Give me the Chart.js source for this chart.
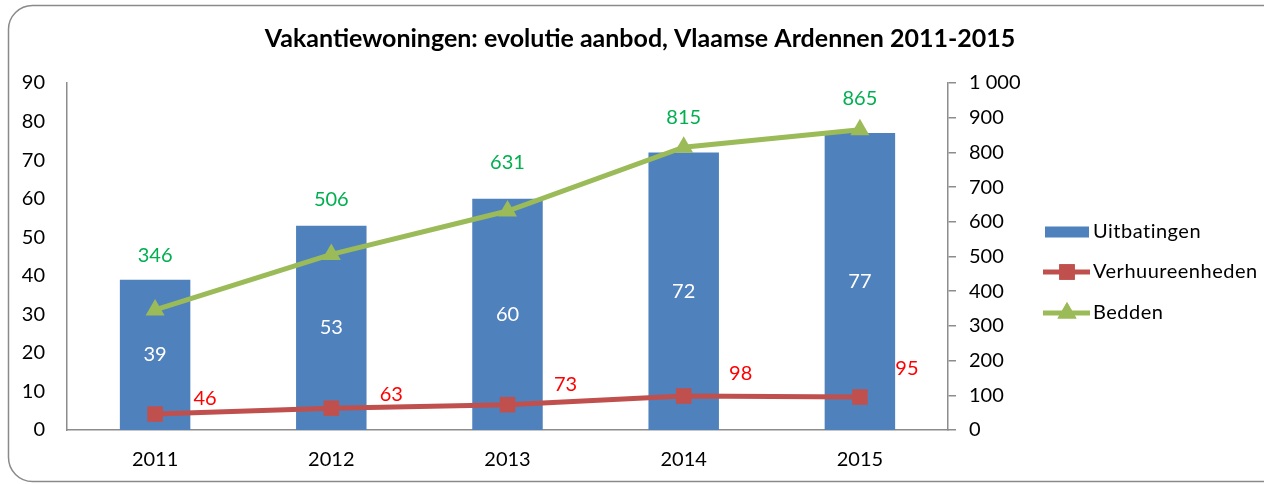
<!DOCTYPE html>
<html>
<head>
<meta charset="utf-8">
<script src="https://cdn.jsdelivr.net/npm/chart.js@4/dist/chart.umd.min.js"></script>
<style>
  html, body { margin: 0; padding: 0; background: #ffffff; }
  #wrap { position: relative; width: 1264px; height: 484px; }
</style>
</head>
<body>
<div id="wrap"><canvas id="c" width="1264" height="484"></canvas></div>
<script>
// ---- data ----
const categories = ['2011', '2012', '2013', '2014', '2015'];
const uitbatingen = [39, 53, 60, 72, 77];
const verhuureenheden = [46, 63, 73, 98, 95];
const bedden = [346, 506, 631, 815, 865];
const leftTicks = [0, 10, 20, 30, 40, 50, 60, 70, 80, 90];
const rightTicks = [0, 100, 200, 300, 400, 500, 600, 700, 800, 900, 1000];
const titleText = 'Vakantiewoningen: evolutie aanbod, Vlaamse Ardennen 2011-2015';

// ---- label placement (style, not data) ----
const beddenLabelDy = [-54, -55, -48, -30, -31];
const verhLabelDx = [50, 60, 58, 57, 47];
const verhLabelDy = [-15, -14, -20, -22, -28];

const FONT = 'Lato, "Open Sans", sans-serif';
const BLUE = '#4F81BD', RED = '#C0504D', GREEN = '#9BBB59';

const frame = {
  id: 'frame',
  beforeDraw(chart) {
    const ctx = chart.ctx;
    ctx.save();
    ctx.fillStyle = '#ffffff';
    ctx.fillRect(0, 0, chart.width, chart.height);
    ctx.strokeStyle = '#8a8a8a';
    ctx.lineWidth = 1.5;
    ctx.beginPath();
    ctx.roundRect(8.5, 5.5, 1320, 476, 24);
    ctx.stroke();
    // title
    ctx.fillStyle = '#000000';
    ctx.font = 'bold 25px ' + FONT;
    ctx.textAlign = 'center';
    ctx.textBaseline = 'alphabetic';
    ctx.fillText(titleText, 640, 47);
    ctx.restore();
  }
};

const labels = {
  id: 'labels',
  afterDatasetsDraw(chart) {
    const ctx = chart.ctx;
    ctx.save();
    ctx.font = '20px ' + FONT;
    ctx.textAlign = 'center';
    ctx.textBaseline = 'middle';
    // bars
    chart.getDatasetMeta(0).data.forEach((el, i) => {
      const v = chart.data.datasets[0].data[i];
      const p = el.getProps(['x', 'y', 'base'], true);
      ctx.fillStyle = '#ffffff';
      ctx.fillText(String(v), p.x, (p.y + p.base) / 2);
    });
    // verhuureenheden
    chart.getDatasetMeta(1).data.forEach((el, i) => {
      const v = chart.data.datasets[1].data[i];
      ctx.fillStyle = '#FF0000';
      ctx.fillText(String(v), el.x + verhLabelDx[i], el.y + verhLabelDy[i]);
    });
    // bedden
    chart.getDatasetMeta(2).data.forEach((el, i) => {
      const v = chart.data.datasets[2].data[i];
      ctx.fillStyle = '#00B050';
      ctx.fillText(String(v), el.x, el.y + beddenLabelDy[i]);
    });
    ctx.restore();
  }
};

const legend = {
  id: 'customLegend',
  afterDraw(chart) {
    const ctx = chart.ctx;
    const ds = chart.data.datasets;
    const x0 = 1045, sw = 44, tx = 1093;
    const ys = [232, 272, 313];
    ctx.save();
    // bar entry
    ctx.fillStyle = ds[0].backgroundColor;
    ctx.fillRect(x0, ys[0] - 5.5, sw, 11);
    // line entries
    [1, 2].forEach(k => {
      const y = ys[k];
      ctx.strokeStyle = ds[k].borderColor;
      ctx.fillStyle = ds[k].borderColor;
      ctx.lineWidth = 5;
      ctx.beginPath();
      ctx.moveTo(x0 - 2, y);
      ctx.lineTo(x0 + sw + 1, y);
      ctx.stroke();
      Chart.helpers.drawPoint(ctx, {
        pointStyle: ds[k].pointStyle,
        radius: ds[k].pointRadius,
        borderWidth: 0
      }, x0 + sw / 2, y);
      ctx.fill();
    });
    ctx.font = '20px ' + FONT;
    ctx.letterSpacing = '0.5px';
    ctx.textAlign = 'left';
    ctx.textBaseline = 'middle';
    ctx.fillStyle = '#000000';
    ds.forEach((d, k) => {
      ctx.fillText(d.label, tx, ys[k]);
    });
    ctx.restore();
  }
};

new Chart(document.getElementById('c'), {
  data: {
    labels: categories,
    datasets: [
      {
        type: 'bar', label: 'Uitbatingen', data: uitbatingen,
        backgroundColor: BLUE, yAxisID: 'y',
        barPercentage: 0.4, categoryPercentage: 1.0, order: 3
      },
      {
        type: 'line', label: 'Verhuureenheden', data: verhuureenheden,
        borderColor: RED, backgroundColor: RED, borderWidth: 5,
        pointStyle: 'rect', pointRadius: 11, pointBorderWidth: 0,
        pointBackgroundColor: RED, yAxisID: 'y1', order: 1, tension: 0
      },
      {
        type: 'line', label: 'Bedden', data: bedden,
        borderColor: GREEN, backgroundColor: GREEN, borderWidth: 5,
        pointStyle: 'triangle', pointRadius: 11, pointBorderWidth: 0,
        pointBackgroundColor: GREEN, yAxisID: 'y1', order: 2, tension: 0
      }
    ]
  },
  options: {
    responsive: false,
    animation: false,
    layout: { padding: { left: 0, right: 236, top: 83, bottom: 14 } },
    plugins: {
      legend: { display: false },
      tooltip: { enabled: false },
      title: { display: false }
    },
    scales: {
      x: {
        grid: { display: false, drawTicks: false },
        border: { display: true, color: '#8c8c8c', width: 1.5 },
        ticks: { color: '#000000', font: { family: FONT, size: 20 }, padding: 18 },
        afterFit(s) { s.height = 40; }
      },
      y: {
        position: 'left', min: 0, max: 90,
        afterBuildTicks(s) { s.ticks = leftTicks.map(v => ({ value: v })); },
        grid: { display: false, drawTicks: false },
        border: { display: true, color: '#8c8c8c', width: 1.5 },
        ticks: { color: '#000000', font: { family: FONT, size: 20 }, padding: 22 },
        afterFit(s) { s.width = 67; }
      },
      y1: {
        position: 'right', min: 0, max: 1000,
        afterBuildTicks(s) { s.ticks = rightTicks.map(v => ({ value: v })); },
        grid: { display: true, drawOnChartArea: false, drawTicks: true, tickLength: 8, color: '#8c8c8c', lineWidth: 1.5 },
        border: { display: true, color: '#8c8c8c', width: 1.5 },
        ticks: {
          color: '#000000', font: { family: FONT, size: 20 }, padding: 13,
          callback: v => v >= 1000 ? '1 000' : String(v)
        },
        afterFit(s) { s.width = 80; }
      }
    }
  },
  plugins: [frame, labels, legend]
});
</script>
</body>
</html>
